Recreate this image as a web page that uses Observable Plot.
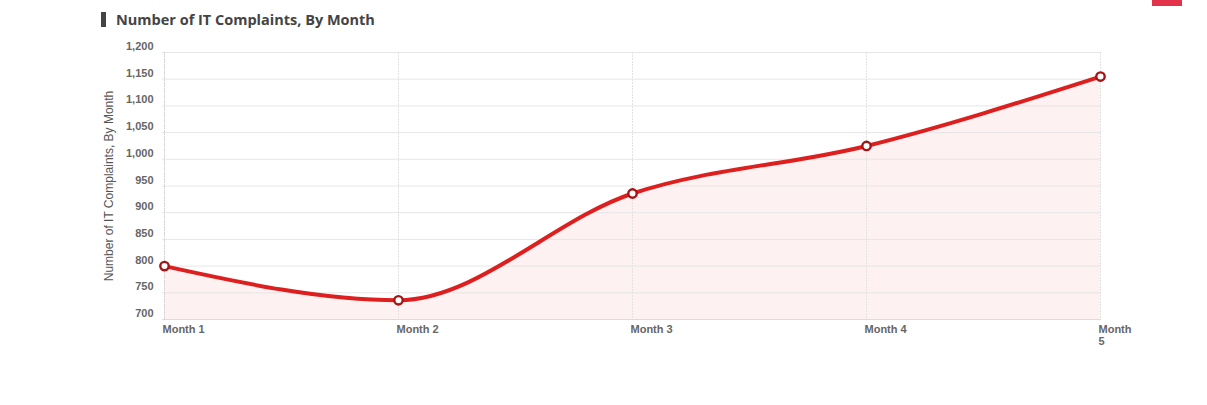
<!DOCTYPE html>
<html>
<head>
<meta charset="utf-8">
<script src="https://cdn.jsdelivr.net/npm/d3@7"></script>
<script src="https://cdn.jsdelivr.net/npm/@observablehq/plot@0.6"></script>
<style>
  body { margin: 0; background: #fff; }
  #wrap { position: relative; width: 1207px; height: 405px; overflow: hidden; }
  #title { position: absolute; left: 101px; top: 10px; font-family: "Open Sans", sans-serif; font-weight: 700; font-size: 14.5px; color: #444; padding-left: 15px; line-height: 20px; }
  #title::before { content: ""; position: absolute; left: 0; top: 2px; width: 5px; height: 15px; background: #444; }
  #badge { position: absolute; left: 1152px; top: 0; width: 30px; height: 6px; background: #e2334a; }
  #chart { position: absolute; left: 0; top: 0; }
  #chart svg g[aria-label="y-axis label"] text { font-weight: normal; font-size: 12px; fill: #555; }
</style>
</head>
<body>
<div id="wrap">
  <div id="chart"></div>
  <div id="title">Number of IT Complaints, By Month</div>
  <div id="badge"></div>
</div>
<script>
const months = ["Month 1", "Month 2", "Month 3", "Month 4", "Month 5"];
const complaints = [800, 736, 936, 1025, 1155];
const yTicks = [700, 750, 800, 850, 900, 950, 1000, 1050, 1100, 1150, 1200];
const yLabel = "Number of IT Complaints, By Month";

const data = months.map((m, i) => ({ month: m, value: complaints[i] }));

const chart = Plot.plot({
  width: 1207,
  height: 405,
  marginLeft: 162,
  marginRight: 106,
  marginTop: 52,
  marginBottom: 86,
  style: { fontFamily: "'Liberation Sans', Arial, sans-serif", fontSize: "11px", fontWeight: "bold", color: "#666", background: "transparent" },
  x: { type: "point", domain: months, padding: 0 },
  y: { domain: [700, 1200] },
  marks: [
    Plot.areaY(data, { x: "month", y1: 700, y2: "value", curve: "monotone-x", fill: "#fdf1f1" }),
    Plot.ruleY(yTicks, { stroke: "#e6e6e6", strokeWidth: 1 }),
    Plot.ruleX(months, { stroke: "#e2e2e2", strokeWidth: 1, strokeDasharray: "2,1" }),
    Plot.ruleX([months[0]], { stroke: "#cfcfcf", strokeWidth: 1, strokeDasharray: "1,1" }),
    Plot.ruleY([700], { stroke: "#dcdcdc", strokeWidth: 1 }),
    Plot.axisY({ ticks: yTicks, tickSize: 0, tickPadding: 9, dy: -6, tickFormat: d3.format(","), label: yLabel, labelAnchor: "center", labelOffset: 58, labelArrow: false }),
    Plot.axisX({ tickSize: 0, tickPadding: 5, dx: -2, textAnchor: "start", lineHeight: 1.1, tickFormat: d => d === "Month 5" ? "Month\n5" : d, label: null }),
    Plot.lineY(data, { x: "month", y: "value", curve: "monotone-x", stroke: "#dd1f1f", strokeWidth: 4 }),
    Plot.dot(data, { x: "month", y: "value", r: 4.2, fill: "#fff", stroke: "#a51515", strokeWidth: 2.4 })
  ]
});
document.getElementById("chart").appendChild(chart);
</script>
</body>
</html>
